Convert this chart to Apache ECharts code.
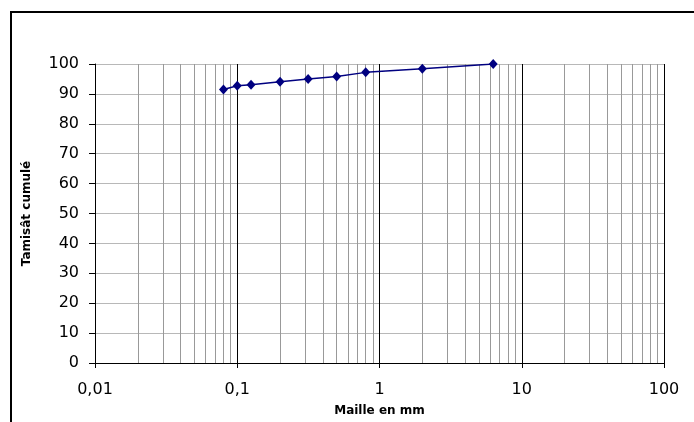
<!DOCTYPE html>
<html>
<head>
<meta charset="utf-8">
<script src="https://cdn.jsdelivr.net/npm/echarts@6/dist/echarts.min.js"></script>
<style>
html,body{margin:0;padding:0;background:#fff;}
#chart{width:694px;height:422px;}
</style>
</head>
<body>
<div id="chart"></div>
<script>
// Data
var sieveSizes = [0.08, 0.1, 0.125, 0.2, 0.315, 0.5, 0.8, 2, 6.3];
var cumulativePassing = [91.5, 92.7, 93.1, 94.1, 95.0, 95.8, 97.2, 98.4, 100];
var xTickLabels = {'0.01': '0,01', '0.1': '0,1', '1': '1', '10': '10', '100': '100'};
var xTitle = 'Maille en mm';
var yTitle = 'Tamisât cumulé';

// Minor log grid positions (2..9 x each decade)
var minorGrid = [];
[0.01, 0.1, 1, 10].forEach(function (d) {
  for (var k = 2; k <= 9; k++) minorGrid.push(+(d * k).toPrecision(3));
});

var chart = echarts.init(document.getElementById('chart'), null, {renderer: 'canvas'});
var font = '"DejaVu Sans", Verdana, sans-serif';

chart.setOption({
  animation: false,
  backgroundColor: '#fff',
  grid: {left: 95, right: 30, top: 64, bottom: 59, containLabel: false},
  graphic: [{
    type: 'polyline',
    shape: {points: [[11, 422], [11, 12], [694, 12]]},
    style: {stroke: '#000', lineWidth: 2, fill: null},
    silent: true
  }],
  xAxis: {
    type: 'log',
    logBase: 10,
    min: 0.01,
    max: 100,
    name: xTitle,
    nameLocation: 'middle',
    nameGap: 42,
    nameTextStyle: {fontFamily: font, fontSize: 12, fontWeight: 'bold', color: '#000'},
    axisLine: {show: true, lineStyle: {color: '#000', width: 1}},
    axisTick: {show: true, inside: false, length: 5, lineStyle: {color: '#000'}},
    axisLabel: {
      margin: 19,
      fontFamily: font, fontSize: 16, color: '#000',
      formatter: function (v) {
        var key = String(+v.toPrecision(3));
        return xTickLabels[key] !== undefined ? xTickLabels[key] : key.replace('.', ',');
      }
    },
    splitLine: {show: true, lineStyle: {color: '#000', width: 1}}
  },
  yAxis: {
    type: 'value',
    min: 0,
    max: 100,
    interval: 10,
    name: yTitle,
    nameLocation: 'middle',
    nameGap: 62,
    nameTextStyle: {fontFamily: font, fontSize: 12, fontWeight: 'bold', color: '#000'},
    axisLine: {show: true, lineStyle: {color: '#000', width: 1}},
    axisTick: {show: true, inside: false, length: 6, lineStyle: {color: '#000'}},
    axisLabel: {margin: 16, fontFamily: font, fontSize: 16, color: '#000'},
    splitLine: {show: true, lineStyle: {color: '#b8b8b8', width: 1}}
  },
  series: [{
    type: 'line',
    data: [],
    z: 1,
    silent: true,
    markLine: {
      silent: true,
      symbol: ['none', 'none'],
      label: {show: false},
      lineStyle: {color: '#999', width: 1, type: 'solid'},
      data: minorGrid.map(function (v) { return {xAxis: v}; })
    }
  }, {
    type: 'line',
    z: 5,
    data: sieveSizes.map(function (s, i) { return [s, cumulativePassing[i]]; }),
    symbol: 'diamond',
    symbolSize: [9, 10],
    lineStyle: {color: '#000080', width: 1.5},
    itemStyle: {color: '#000080'}
  }]
});
</script>
</body>
</html>
